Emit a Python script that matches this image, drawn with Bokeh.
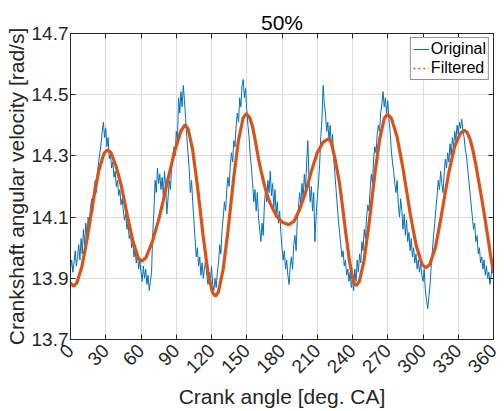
import math
from bokeh.plotting import figure
from bokeh.models import (Range1d, FixedTicker, LinearAxis, Legend, LegendItem)
from bokeh.embed import file_html
from bokeh.resources import INLINE

# ---------------- data ----------------
title_text = "50%"
x_label = "Crank angle [deg. CA]"
y_label = "Crankshaft angular velocity [rad/s]"

x_ticks = [0, 30, 60, 90, 120, 150, 180, 210, 240, 270, 300, 330, 360]
x_tick_labels = ["0", "30", "60", "90", "120", "150", "180", "210", "240",
                 "270", "300", "330", "360"]
y_ticks = [13.7, 13.9, 14.1, 14.3, 14.5, 14.7]
y_tick_labels = ["13.7", "13.9", "14.1", "14.3", "14.5", "14.7"]

original_x = list(range(0, 361))
original_y = [
    13.93, 13.96, 13.92, 13.95, 13.99, 13.94, 13.97, 14.01, 13.96, 14.03,
    13.98, 14.06, 14.01, 14.08, 14.04, 14.10, 14.07, 14.13, 14.16, 14.12,
    14.19, 14.22, 14.18, 14.25, 14.28, 14.31, 14.34, 14.38, 14.41, 14.36,
    14.39, 14.33, 14.36, 14.29, 14.31, 14.26, 14.28, 14.23, 14.25, 14.20,
    14.22, 14.17, 14.19, 14.14, 14.16, 14.12, 14.09, 14.11, 14.06, 14.08,
    14.03, 14.05, 14.00, 14.02, 13.97, 13.99, 13.95, 13.98, 13.93, 13.96,
    13.92, 13.89, 13.94, 13.90, 13.93, 13.88, 13.91, 13.86, 13.89, 13.92,
    14.05, 14.12, 14.22, 14.18, 14.26, 14.21, 14.24, 14.19, 14.23, 14.17,
    14.25, 14.20, 14.11, 14.16, 14.22, 14.19, 14.26, 14.29, 14.33, 14.30,
    14.38, 14.35, 14.49, 14.44, 14.51, 14.46, 14.53, 14.48, 14.42, 14.36,
    14.31, 14.26, 14.18, 14.22, 14.15, 14.09, 14.03, 13.97, 14.00, 13.94,
    13.97, 13.91, 13.95, 13.90, 13.93, 13.96, 13.91, 13.88, 13.92, 13.89,
    13.94, 13.88, 13.86, 13.90, 13.87, 13.92, 13.95, 14.01, 13.98, 14.06,
    14.10, 14.15, 14.12, 14.19, 14.23, 14.20, 14.27, 14.31, 14.28, 14.35,
    14.33, 14.40, 14.44, 14.41, 14.49, 14.46, 14.53, 14.55, 14.49, 14.52,
    14.45, 14.40, 14.36, 14.30, 14.26, 14.21, 14.15, 14.19, 14.12, 14.18,
    14.10, 14.06, 14.02, 14.08, 14.04, 14.14, 14.19, 14.15, 14.22, 14.18,
    14.25, 14.17, 14.21, 14.13, 14.19, 14.11, 14.15, 14.08, 14.12, 14.05,
    14.00, 13.96, 13.99, 13.93, 13.96, 13.91, 13.88, 13.94, 13.97, 13.93,
    14.01, 14.04, 13.99, 14.09, 14.13, 14.18, 14.14, 14.21, 14.16, 14.24,
    14.19, 14.28, 14.35, 14.22, 14.15, 14.20, 14.12, 14.18, 14.02, 14.10,
    14.16, 14.21, 14.27, 14.36, 14.42, 14.53, 14.47, 14.44, 14.38, 14.41,
    14.35, 14.40, 14.33, 14.37, 14.29, 14.24, 14.19, 14.14, 14.09, 14.05,
    14.01, 13.97, 13.99, 13.94, 13.96, 13.91, 13.93, 13.89, 13.92, 13.87,
    13.90, 13.86, 13.93, 13.89, 13.96, 13.92, 13.98, 13.95, 14.02, 13.99,
    14.06, 14.03, 14.10, 14.14, 14.12, 14.19, 14.24, 14.21, 14.29, 14.33,
    14.31, 14.37, 14.40, 14.38, 14.44, 14.47, 14.51, 14.46, 14.49, 14.44,
    14.48, 14.42, 14.38, 14.32, 14.28, 14.25, 14.21, 14.18, 14.22, 14.14,
    14.10, 14.16, 14.12, 14.06, 14.11, 14.04, 14.09, 14.02, 14.05, 13.99,
    14.03, 13.97, 14.00, 13.95, 13.98, 13.93, 13.96, 13.92, 13.95, 13.91,
    13.89, 13.93, 13.86, 13.83, 13.80, 13.84, 13.88, 13.94, 13.99, 14.04,
    14.08, 14.13, 14.17, 14.22, 14.19, 14.25, 14.21, 14.18, 14.24, 14.29,
    14.26, 14.31, 14.28, 14.34, 14.30, 14.36, 14.33, 14.38, 14.35, 14.40,
    14.37, 14.41, 14.39, 14.42, 14.38, 14.36, 14.32, 14.30, 14.26, 14.22,
    14.18, 14.14, 14.10, 14.06, 14.08, 14.02, 14.04, 13.98, 14.00, 13.95,
    13.97, 13.93, 13.96, 13.91, 13.94, 13.90, 13.92, 13.88, 13.91, 13.94,
    13.92,
]

filtered_x = [
    0.0, 2.5, 5.4, 9.75, 14.1, 17.0, 19.9, 24.25, 28.6,
    31.5, 34.4, 38.75, 43.1, 46.0, 48.9, 53.25, 57.6,
    60.5, 64.2, 69.75, 75.3, 79.0, 82.7, 88.25, 93.8,
    97.5, 100.1, 103.95, 107.8, 110.4, 113.0, 116.85, 120.7,
    123.3, 125.9, 129.85, 133.8, 136.4, 139.0, 142.95, 146.9,
    149.5, 152.5, 155.0, 157.5, 160.0, 162.5, 165.0, 167.5, 170.0, 175.0, 180.0,
    185.5, 190.0, 195.0, 200.0, 205.0, 210.0, 215.0,
    219.5, 221.9, 225.4, 229.0, 231.35, 233.7, 237.3, 240.8,
    243.2, 245.85, 249.8, 253.8, 256.45, 259.1, 263.1, 267.05,
    269.7, 273.0, 277.9, 282.8, 286.05, 289.3, 294.2, 299.1,
    302.4, 305.7, 310.55, 315.4, 318.7, 321.95, 326.85, 331.75,
    335.0, 337.5, 340.0, 342.5, 345.0, 347.5, 350.0, 352.5, 355.0, 357.5, 360.0,
]
filtered_y = [
    13.885, 13.874, 13.885, 13.939, 14.028, 14.097, 14.166, 14.255, 14.309,
    14.320, 14.311, 14.267, 14.205, 14.150, 14.095, 14.020, 13.967,
    13.956, 13.967, 14.021, 14.095, 14.155, 14.220, 14.310, 14.380,
    14.402, 14.388, 14.320, 14.208, 14.122, 14.035, 13.923, 13.855,
    13.841, 13.856, 13.928, 14.047, 14.140, 14.232, 14.351, 14.424,
    14.438, 14.425, 14.395, 14.345, 14.290, 14.245, 14.205, 14.170, 14.145, 14.105, 14.084,
    14.075, 14.085, 14.125, 14.180, 14.250, 14.310, 14.345,
    14.356, 14.344, 14.286, 14.210, 14.140, 14.065, 13.960, 13.888,
    13.876, 13.890, 13.958, 14.069, 14.156, 14.243, 14.354, 14.423,
    14.436, 14.424, 14.363, 14.263, 14.185, 14.107, 14.007, 13.946,
    13.934, 13.945, 14.000, 14.100, 14.175, 14.245, 14.330, 14.373,
    14.384, 14.377, 14.355, 14.318, 14.270, 14.215, 14.160, 14.100, 14.040, 13.975, 13.917,
]

# ---------------- styling ----------------
BLUE = "#0072BD"
ORANGE = "#D95319"
AXC = "#262626"
FONT = "Liberation Sans"

p = figure(width=504, height=411, output_backend="svg", toolbar_location=None,
           x_range=Range1d(0, 360), y_range=Range1d(13.7, 14.7),
           min_border_left=70, min_border_right=11, min_border_top=33,
           min_border_bottom=71)

p.title.text = title_text
p.title.align = "center"
p.title.text_font = FONT
p.title.text_font_size = "21px"
p.title.text_font_style = "normal"
p.title.text_color = "#000000"
p.title.standoff = 0

r_orig = p.line(original_x, original_y, line_color=BLUE, line_width=1)
r_filt_leg = p.line(filtered_x, filtered_y, line_color=ORANGE, line_width=1.5,
                    line_dash="2 3")
p.line(filtered_x, filtered_y, line_color=ORANGE, line_width=3.2)

legend = Legend(items=[LegendItem(label="Original", renderers=[r_orig]),
                       LegendItem(label="Filtered", renderers=[r_filt_leg])],
                location="top_right", label_text_font=FONT,
                label_text_font_size="16px", label_text_color="#000000",
                border_line_color=AXC, border_line_width=1,
                background_fill_alpha=1.0, glyph_width=16, glyph_height=18,
                label_standoff=2, spacing=1, padding=2, margin=4,
                label_height=18)
p.add_layout(legend)

for ax in (p.xaxis[0], p.yaxis[0]):
    ax.major_tick_in = 5
    ax.major_tick_out = 0
    ax.minor_tick_in = 0
    ax.minor_tick_out = 0
    ax.axis_line_color = AXC
    ax.major_tick_line_color = AXC
    ax.major_label_text_font = FONT
    ax.major_label_text_color = AXC
    ax.axis_label_text_font = FONT
    ax.axis_label_text_font_style = "normal"
    ax.axis_label_text_color = AXC

p.yaxis.major_label_text_font_size = "19px"
p.yaxis.axis_label_text_font_size = "21px"
p.yaxis.ticker = FixedTicker(ticks=y_ticks)
p.yaxis.major_label_overrides = {t: l for t, l in zip(y_ticks, y_tick_labels)}
p.yaxis.axis_label = y_label
p.yaxis.major_label_standoff = 2
p.yaxis.axis_label_standoff = 1

p.xaxis.ticker = FixedTicker(ticks=x_ticks)
p.xaxis.major_label_overrides = {t: l for t, l in zip(x_ticks, x_tick_labels)}
p.xaxis.major_label_text_font_size = "19px"
p.xaxis.major_label_orientation = math.pi / 4
p.xaxis.major_label_standoff = 8
p.xaxis.axis_label = x_label
p.xaxis.axis_label_text_font_size = "21px"
p.xaxis.axis_label_standoff = 3

# top / right inner ticks (box)
top = LinearAxis(ticker=FixedTicker(ticks=x_ticks), major_label_text_font_size="1px",
                 major_label_text_color=None,
                 major_tick_in=5, major_tick_out=0, minor_tick_in=0, minor_tick_out=0,
                 axis_line_color=AXC, major_tick_line_color=AXC, major_label_standoff=0)
right = LinearAxis(ticker=FixedTicker(ticks=y_ticks), major_label_text_font_size="1px",
                   major_label_text_color=None,
                   major_tick_in=5, major_tick_out=0, minor_tick_in=0, minor_tick_out=0,
                   axis_line_color=AXC, major_tick_line_color=AXC, major_label_standoff=0)
p.add_layout(top, "above")
p.add_layout(right, "right")

p.xgrid.ticker = FixedTicker(ticks=x_ticks)
p.ygrid.ticker = FixedTicker(ticks=y_ticks)
p.grid.grid_line_color = "#dcdcdc"
p.grid.grid_line_width = 1
p.outline_line_color = AXC
p.background_fill_color = "white"
p.border_fill_color = "white"

open("out.html", "w").write(file_html(p, INLINE))
